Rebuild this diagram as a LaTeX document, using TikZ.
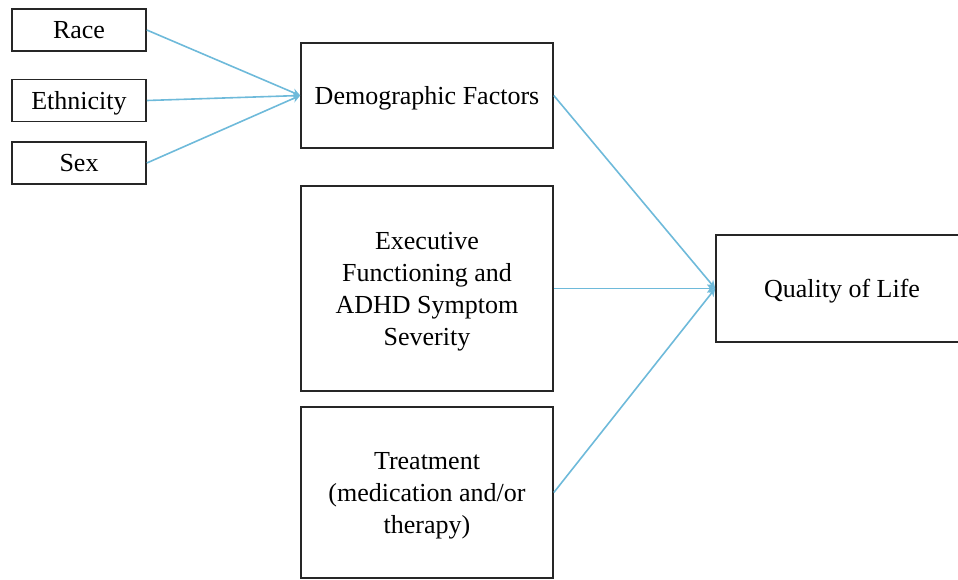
\documentclass[tikz,border=0pt]{standalone}
\usepackage{fontspec}
\setmainfont{Liberation Serif}
\usetikzlibrary{arrows.meta}
\definecolor{linkblue}{RGB}{110,186,218}

\begin{document}
\begin{tikzpicture}[x=0.5pt,y=-0.5pt]
\tikzstyle{every node}+=[inner sep=0pt, font=\fontsize{13}{16}\selectfont]
\tikzstyle{box}=[draw=black!85, line width=0.8pt, align=center, text depth=0pt]
\tikzstyle{small}=[box, minimum width=67pt, minimum height=21pt]
\tikzstyle{big}=[box, minimum width=126pt]
\tikzstyle{link}=[draw=linkblue, line width=0.8pt, -{Stealth[length=4pt,width=4pt]}]
\useasboundingbox (0,0) rectangle (958,579);
\node [small] (race) at (79,30) {Race};
\node [small] (eth) at (79,100.5) {Ethnicity};
\node [small] (sex) at (79,163) {Sex};
\node [big, minimum height=52.5pt] (demo) at (427,95.5) {Demographic Factors};
\node [big, minimum height=102.5pt] (exec) at (427,288.5) {Executive\\Functioning and\\ADHD Symptom\\Severity};
\node [big, minimum height=85.5pt] (treat) at (427,492.5) {Treatment\\(medication and/or\\therapy)};
\node [big, minimum height=53.5pt] (qol) at (842,288.5) {Quality of Life};
\draw [link] (race.east) -- (demo.west);
\draw [link] (eth.east) -- (demo.west);
\draw [link] (sex.east) -- (demo.west);
\draw [link] (demo.east) -- (qol.west);
\draw [link] (exec.east) -- (qol.west);
\draw [link] (treat.east) -- (qol.west);
\end{tikzpicture}
\end{document}
